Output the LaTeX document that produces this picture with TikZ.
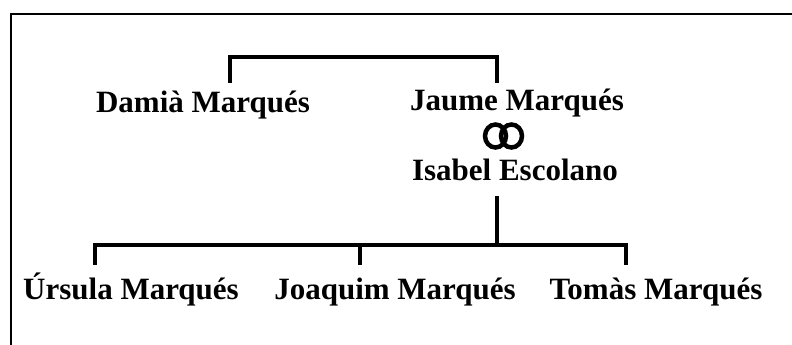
\documentclass[tikz,border=0pt]{standalone}
\usepackage{fontspec}
\setmainfont{Liberation Serif}
\begin{document}
\begin{tikzpicture}[x=1pt,y=-1pt,
  person/.style={inner sep=0pt,anchor=base,font=\fontsize{31}{31}\selectfont\bfseries},
  link/.style={line width=4pt,line join=miter,line cap=butt},
  frameline/.style={line width=2.3pt},
  ring/.style={line width=4.5pt}]
\useasboundingbox (0,0) rectangle (792,345);
% frame
\coordinate (fc) at (10.7,14.3);
\coordinate (fr) at (792,14.3);
\coordinate (fb) at (10.7,345);
\draw[frameline] (fr) -- (fc) -- (fb);
% people
\node[person] (damia) at (203,112) {Damià Marqués};
\node[person] (jaume) at (517,110) {Jaume Marqués};
\node[person] (isabel) at (515,180) {Isabel Escolano};
\node[person] (ursula) at (131,299) {Úrsula Marqués};
\node[person] (joaquim) at (395,299) {Joaquim Marqués};
\node[person] (tomas) at (656,299) {Tomàs Marqués};
% rings
\draw[ring] (495.5,136) ellipse [x radius=10.5,y radius=11.5];
\draw[ring] (511.5,136) ellipse [x radius=10.5,y radius=11.5];
% upper bracket
\coordinate (d1) at (230,83);
\coordinate (j1) at (497,83);
\draw[link] (d1) -- (d1 |- 0,57) -- (j1 |- 0,57) -- (j1);
% lower bracket
\coordinate (p1) at (497,196);
\coordinate (p2) at (497,244.5);
\coordinate (u1) at (95,265);
\coordinate (q1) at (360,265);
\coordinate (t1) at (626,265);
\draw[link] (p1) -- (p2);
\draw[link] (u1) -- (u1 |- p2) -- (t1 |- p2) -- (t1);
\draw[link] (q1) -- (q1 |- p2);
\end{tikzpicture}
\end{document}
